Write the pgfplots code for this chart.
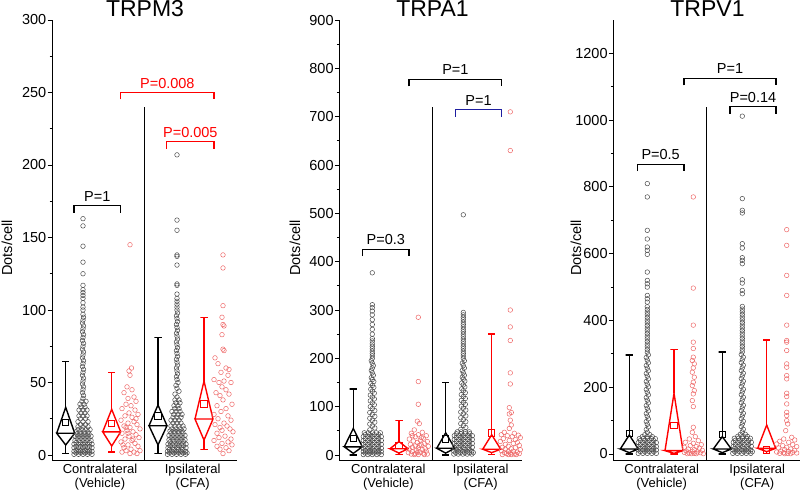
\documentclass[border=0pt]{standalone}
\usepackage{fontspec}
\setmainfont{Liberation Sans}
\usepackage{pgfplots}
\pgfplotsset{compat=1.18}
\definecolor{dotred}{RGB}{238,105,105}
\definecolor{dotblk}{RGB}{75,75,75}
\definecolor{brblue}{RGB}{30,30,160}
\newcommand{\tickfont}{\fontsize{14.5}{17}\selectfont}
\newcommand{\catfont}{\fontsize{13}{15}\selectfont}
\pgfplotsset{
  panel/.style={
    scale only axis, height=440pt, anchor=south west,
    axis x line*=bottom, axis y line*=left,
    axis line style={line width=0.9pt,-},
    xmin=0, xtick=\empty,
    tick align=outside,
    major tick length=4.5pt, minor tick length=2.5pt,
    every tick/.style={black, line width=0.9pt},
    yticklabel style={font=\tickfont, inner sep=1pt},
    /pgf/number format/assume math mode=true,
    /pgf/number format/1000 sep={},
    minor y tick num=1,
    clip=false,
  },
  bdots/.style={only marks, mark=o, mark size=2.3pt, dotblk, mark options={line width=0.5pt}},
  rdots/.style={only marks, mark=o, mark size=2.3pt, dotred, mark options={line width=0.5pt}},
  bx/.style={black, line width=1.4pt, mark=none},
  rx/.style={red, line width=1.4pt, mark=none},
  bmean/.style={only marks, black, mark=square, mark size=3.2pt, mark options={line width=0.9pt}},
  rmean/.style={only marks, red, mark=square, mark size=3.2pt, mark options={line width=0.9pt}},
  brk/.style={line width=1.1pt, mark=none},
}
\begin{document}
\begin{tikzpicture}
\useasboundingbox (0,0) rectangle (800pt,-491pt);
% ================= Panel 1: TRPM3 =================
\begin{axis}[panel, at={(52pt,-460pt)}, width=185pt, xmax=185, ymin=-3.45, ymax=300, ytick={0,50,...,300}]
\addplot[bdots] table[row sep=\\, x expr=\thisrow{dx}+31, y=y] {dx y\\
-9 0.5\\-4.5 0.5\\0 0.5\\4.5 0.5\\9 0.5\\-7 1.5\\-2.5 1.5\\2 1.5\\6.5 1.5\\
-9 2.5\\-4.5 2.5\\0 2.5\\4.5 2.5\\9 2.5\\-7 3.5\\-2.5 3.5\\2 3.5\\6.5 3.5\\
-9 5\\-4.5 5\\0 5\\4.5 5\\9 5\\-7 6\\-2.5 6\\2 6\\6.5 6\\
-9 7.5\\-4.5 7.5\\0 7.5\\4.5 7.5\\9 7.5\\-7 8.5\\-2.5 8.5\\2 8.5\\6.5 8.5\\
-8 10\\-4 10\\0 10\\4 10\\8 10\\-6 11.5\\-2 11.5\\2 11.5\\6 11.5\\
-8 13\\-4 13\\0 13\\4 13\\8 13\\-6 14.5\\-2 14.5\\2 14.5\\6 14.5\\
-7 16\\-3 16\\1 16\\5 16\\-5 17.5\\-1 17.5\\3 17.5\\7 17.5\\
-5 19.5\\0 19.5\\5 19.5\\-2.5 21\\2.5 21\\-5 23\\0 23\\5 23\\-2.5 25\\2.5 25\\
-4 27\\0 27\\4 27\\-2 29\\2 29\\-4 31\\0 31\\4 31\\-2 33\\2 33\\-3 35\\1 35\\-1 37\\3 37\\
0 39\\0.5 41\\-0.5 43\\0 45\\0.5 47\\-0.5 49\\0 51\\0.5 53\\-0.5 55\\0 57\\0.5 59\\-0.5 61\\
0 63\\0.5 65\\-0.5 67\\0 69\\0.5 71\\-0.5 73\\0 75\\0.5 77\\-0.5 79\\0 81\\0.5 83\\-0.5 85\\
0 87\\0.5 89\\-0.5 91\\0 93\\0.5 95\\0 97\\0 100\\0 102\\0 105\\0 108\\0 110\\0 112\\0 114\\
0 117\\0 125\\0 133\\0 144\\0 158\\0 163\\
};
\addplot[rdots] table[row sep=\\, x expr=\thisrow{dx}+78, y=y] {dx y\\
0 145\\1.5 60\\-1 58\\0 55\\-3 47\\2 45\\-6 43\\4 40\\-2 39\\6 37\\-4 35\\1 34\\-8 32\\5 31\\
-1 29\\8 28\\-5 27\\2 26\\-9 24\\4 23\\-2 22\\7 21\\-6 20\\0 19\\10 18\\-3 17\\3 16\\-8 15\\
6 14\\-1 13\\9 12\\-5 11\\2 10\\-9 9\\5 8\\-2 7\\8 6\\-6 5\\1 4\\10 3\\-4 3\\4 2\\-8 2\\0 1\\
7 1\\-2 15\\3 11\\-4 19\\6 25\\-7 7\\
};
\addplot[bdots] table[row sep=\\, x expr=\thisrow{dx}+125, y=y] {dx y\\
-9.5 0.5\\-5 0.5\\-0.5 0.5\\4 0.5\\8.5 0.5\\-7.5 1.5\\-3 1.5\\1.5 1.5\\6 1.5\\10 1.5\\
-9.5 2.5\\-5 2.5\\-0.5 2.5\\4 2.5\\8.5 2.5\\-7.5 3.8\\-3 3.8\\1.5 3.8\\6 3.8\\
-9 5\\-4.5 5\\0 5\\4.5 5\\9 5\\-7 6.3\\-2.5 6.3\\2 6.3\\6.5 6.3\\
-9 7.5\\-4.5 7.5\\0 7.5\\4.5 7.5\\9 7.5\\-7 9\\-2.5 9\\2 9\\6.5 9\\
-8 10.5\\-4 10.5\\0 10.5\\4 10.5\\8 10.5\\-6 12\\-2 12\\2 12\\6 12\\
-8 13.5\\-4 13.5\\0 13.5\\4 13.5\\8 13.5\\-6 15\\-2 15\\2 15\\6 15\\
-7 16.5\\-3 16.5\\1 16.5\\5 16.5\\-5 18\\-1 18\\3 18\\7 18\\
-6 20\\-2 20\\2 20\\6 20\\-4 22\\0 22\\4 22\\-6 24\\-2 24\\2 24\\-4 26\\0 26\\4 26\\
-3 28\\1 28\\5 28\\-5 30\\-1 30\\3 30\\-2 32\\2 32\\-3 34\\1 34\\-1 36\\3 36\\-2 38\\2 38\\
0 40\\-2 42\\2 44\\0 46\\-1 48\\1 50\\0 52\\-0.5 54\\0.5 56\\0 58\\-0.5 60\\0.5 62\\0 64\\
-0.5 66\\0.5 68\\0 70\\-0.5 72\\0.5 74\\0 76\\-0.5 78\\0.5 80\\0 82\\-0.5 84\\0.5 86\\0 88\\
-0.5 90\\0.5 92\\0 94\\-0.5 96\\0.5 98\\0 100\\0 102\\0 104\\0 106\\0 108\\0 111\\0 117\\
0 118\\0 131\\0 137\\0 138\\0 155\\0 162\\0 207\\
};
\addplot[rdots] table[row sep=\\, x expr=\thisrow{dx}+171, y=y] {dx y\\
0 138\\0 129\\0 103\\-1 95\\0 90\\1 89\\-1 83\\0 73\\1 72\\-8 67\\-5 63\\3 60\\6 59\\-2 57\\
5 55\\-9 52\\1 51\\-4 50\\8 50\\-1 47\\3 45\\-7 43\\6 42\\-3 41\\0 38\\9 35\\-6 34\\3 32\\
-2 30\\-9 28\\5 27\\-5 25\\8 24\\1 22\\-8 21\\4 20\\-3 19\\7 18\\-1 17\\10 16\\-6 15\\2 13\\
-4 12\\8 11\\-9 10\\5 9\\-1 8\\9 7\\-6 6\\3 5\\-3 4\\6 3\\0 1\\
};
\addplot[bx] coordinates {(4.7,15)(13.7,32.9)(22.7,15)(13.7,6.9)(4.7,15)(22.7,15)};
\addplot[bx] coordinates {(13.7,32.9)(13.7,64.3)(10,64.3)(17.4,64.3)};
\addplot[bx] coordinates {(13.7,6.9)(13.7,1.1)(10,1.1)(17.4,1.1)};
\addplot[bmean] coordinates {(13.7,22.3)};
\addplot[rx] coordinates {(50.7,16)(59.7,31.5)(68.7,16)(59.7,6.2)(50.7,16)(68.7,16)};
\addplot[rx] coordinates {(59.7,31.5)(59.7,56.8)(56,56.8)(63.4,56.8)};
\addplot[rx] coordinates {(59.7,6.2)(59.7,2)(56,2)(63.4,2)};
\addplot[rmean] coordinates {(59.7,21.6)};
\addplot[bx] coordinates {(97,20.2)(106,34.5)(115,20.2)(106,6.9)(97,20.2)(115,20.2)};
\addplot[bx] coordinates {(106,34.5)(106,81)(102.3,81)(109.7,81)};
\addplot[bx] coordinates {(106,6.9)(106,1.1)(102.3,1.1)(109.7,1.1)};
\addplot[bmean] coordinates {(106,26.9)};
\addplot[rx] coordinates {(143,24.8)(152,51)(161,24.8)(152,10.3)(143,24.8)(161,24.8)};
\addplot[rx] coordinates {(152,51)(152,95)(148.3,95)(155.7,95)};
\addplot[rx] coordinates {(152,10.3)(152,3.9)(148.3,3.9)(155.7,3.9)};
\addplot[rmean] coordinates {(152,35.2)};
\addplot[black, line width=0.8pt, mark=none] coordinates {(92.3,-3.45)(92.3,240)};
\addplot[brk, black] coordinates {(22,167.2)(22,172)(68.7,172)(68.7,167.2)};
\node[anchor=base, font=\tickfont, inner sep=0pt, yshift=4.5pt] at (axis cs:45.35,172) {P=1};
\addplot[brk, red] coordinates {(68.7,245.2)(68.7,250)(162,250)(162,245.2)};
\node[anchor=base, font=\tickfont, inner sep=0pt, yshift=4.5pt, red] at (axis cs:115.35,250) {P=0.008};
\addplot[brk, red] coordinates {(114.7,211.2)(114.7,216)(162,216)(162,211.2)};
\node[anchor=base, font=\tickfont, inner sep=0pt, yshift=4.5pt, red] at (axis cs:138.35,216) {P=0.005};
\node[anchor=base, font=\catfont, yshift=-13pt] at (axis cs:48,-3.45) {Contralateral};
\node[anchor=base, font=\catfont, yshift=-27.5pt] at (axis cs:48,-3.45) {(Vehicle)};
\node[anchor=base, font=\catfont, yshift=-13pt] at (axis cs:140.7,-3.45) {Ipsilateral};
\node[anchor=base, font=\catfont, yshift=-27.5pt] at (axis cs:140.7,-3.45) {(CFA)};
\end{axis}
% ================= Panel 2: TRPA1 =================
\begin{axis}[panel, at={(339.3pt,-460pt)}, width=183pt, xmax=183, ymin=-10.3, ymax=900, ytick={0,100,...,900}]
\addplot[bdots] table[row sep=\\, x expr=\thisrow{dx}+33, y=y] {dx y\\
-9 1\\-4.5 1\\0 1\\4.5 1\\9 1\\-7 4\\-2.5 4\\2 4\\6.5 4\\
-9 7\\-4.5 7\\0 7\\4.5 7\\9 7\\-7 10\\-2.5 10\\2 10\\6.5 10\\
-9 14\\-4.5 14\\0 14\\4.5 14\\9 14\\-7 18\\-2.5 18\\2 18\\6.5 18\\
-9 22\\-4.5 22\\0 22\\4.5 22\\9 22\\-7 26\\-2.5 26\\2 26\\6.5 26\\
-9 30\\-4.5 30\\0 30\\4.5 30\\9 30\\-7 34\\-2.5 34\\2 34\\6.5 34\\
-9 38\\-4.5 38\\0 38\\4.5 38\\9 38\\-7 42\\-2.5 42\\2 42\\6.5 42\\
-8 46\\-4 46\\0 46\\4 46\\8 46\\
-2.5 52\\2.5 56\\0 60\\-2.5 64\\2.5 68\\0 72\\-2.5 76\\2.5 80\\0 84\\-2.5 88\\2.5 92\\0 96\\
-2 100\\2 104\\0 108\\-2 112\\2 116\\0 120\\-2 124\\2 128\\0 132\\-1.5 136\\1.5 140\\0 144\\
-1.5 148\\1.5 152\\0 156\\-1 160\\1 165\\0 170\\-1 175\\0 180\\1 185\\0 190\\-1 195\\0 200\\
0 205\\0 210\\0 215\\0 220\\0 225\\0 230\\0 236\\0 241\\0 250\\0 260\\0 270\\0 280\\0 290\\
0 298\\0 305\\0 311\\0 377\\
};
\addplot[rdots] table[row sep=\\, x expr=\thisrow{dx}+79, y=y] {dx y\\
0 285\\0 152\\0 105\\-1 70\\1 65\\-4 52\\4 47\\-7 45\\0 42\\8 40\\-3 38\\5 35\\-9 33\\2 31\\
-5 29\\9 28\\-1 26\\6 24\\-8 22\\3 21\\-3 19\\10 18\\-6 16\\0 15\\7 13\\-9 12\\4 11\\-2 10\\
8 8\\-6 7\\2 6\\-10 5\\5 4\\-3 3\\9 2\\-7 2\\0 1\\6 1\\-4 1\\3 36\\-6 40\\1 20\\-1 5\\
};
\addplot[bdots] table[row sep=\\, x expr=\thisrow{dx}+124, y=y] {dx y\\
-9.5 2\\-5 2\\-0.5 2\\4 2\\8.5 2\\-7.5 5\\-3 5\\1.5 5\\6 5\\10 5\\
-9.5 8\\-5 8\\-0.5 8\\4 8\\8.5 8\\-7.5 12\\-3 12\\1.5 12\\6 12\\
-9 16\\-4.5 16\\0 16\\4.5 16\\9 16\\-7 20\\-2.5 20\\2 20\\6.5 20\\
-9 24\\-4.5 24\\0 24\\4.5 24\\9 24\\-7 28\\-2.5 28\\2 28\\6.5 28\\
-9 32\\-4.5 32\\0 32\\4.5 32\\9 32\\-7 36\\-2.5 36\\2 36\\6.5 36\\
-9 40\\-4.5 40\\0 40\\4.5 40\\9 40\\-7 44\\-2.5 44\\2 44\\6.5 44\\
-6 48\\-2 48\\2 48\\6 48\\
-2.5 53\\2.5 57\\0 61\\-2.5 65\\2.5 69\\0 73\\-2.5 77\\2.5 81\\0 85\\-2.5 89\\2.5 93\\0 97\\
-2 101\\2 105\\0 109\\-2 113\\2 117\\0 121\\-2 125\\2 129\\0 133\\-1.5 137\\1.5 141\\0 145\\
-1.5 149\\1.5 153\\0 157\\-1 161\\1 165\\0 170\\-1 175\\1 180\\0 185\\-1 190\\1 195\\0 200\\
0 205\\0 210\\0 215\\0 220\\0 225\\0 230\\0 235\\0 240\\0 245\\0 250\\0 255\\0 260\\0 265\\
0 270\\0 275\\0 280\\0 285\\0 290\\0 295\\0 497\\
};
\addplot[rdots] table[row sep=\\, x expr=\thisrow{dx}+171, y=y] {dx y\\
0 710\\0 630\\0 300\\0 265\\0 237\\0 170\\0 147\\-1 98\\1 88\\-1 85\\0 72\\1 62\\-1 55\\-6 47\\
4 45\\-9 42\\8 41\\-3 40\\2 38\\10 36\\-7 34\\5 32\\-1 30\\-10 28\\7 26\\3 24\\-5 22\\9 20\\
-2 18\\-8 16\\5 15\\1 13\\-5 12\\10 11\\-9 9\\3 8\\-2 7\\7 6\\-6 5\\0 4\\9 3\\-4 3\\4 2\\
-8 1\\1 1\\6 1\\-2 1\\
};
\addplot[bx] coordinates {(5,17)(14,55)(23,17)(14,3.4)(5,17)(23,17)};
\addplot[bx] coordinates {(14,55)(14,137)(10.3,137)(17.7,137)};
\addplot[bx] coordinates {(14,3.4)(14,0)(10.3,0)(17.7,0)};
\addplot[bmean] coordinates {(14,34.5)};
\addplot[rx] coordinates {(50.7,13)(59.7,28)(68.7,13)(59.7,4)(50.7,13)(68.7,13)};
\addplot[rx] coordinates {(59.7,28)(59.7,71)(56,71)(63.4,71)};
\addplot[rx] coordinates {(59.7,4)(59.7,1)(56,1)(63.4,1)};
\addplot[rmean] coordinates {(59.7,20)};
\addplot[bx] coordinates {(97.4,14)(106.4,46)(115.4,14)(106.4,4)(97.4,14)(115.4,14)};
\addplot[bx] coordinates {(106.4,46)(106.4,150)(102.7,150)(110.1,150)};
\addplot[bx] coordinates {(106.4,4)(106.4,0)(102.7,0)(110.1,0)};
\addplot[bmean] coordinates {(106.4,33)};
\addplot[rx] coordinates {(143.4,12)(152.4,42)(161.4,12)(152.4,5)(143.4,12)(161.4,12)};
\addplot[rx] coordinates {(152.4,42)(152.4,250)(148.7,250)(156.1,250)};
\addplot[rx] coordinates {(152.4,5)(152.4,1)(148.7,1)(156.1,1)};
\addplot[rmean] coordinates {(152.4,46)};
\addplot[black, line width=0.8pt, mark=none] coordinates {(93.4,-10.3)(93.4,720)};
\addplot[brk, black] coordinates {(23.4,411.5)(23.4,426)(69.7,426)(69.7,411.5)};
\node[anchor=base, font=\tickfont, inner sep=0pt, yshift=4.5pt] at (axis cs:46.55,426) {P=0.3};
\addplot[brk, black] coordinates {(69.7,762.5)(69.7,777)(162.4,777)(162.4,762.5)};
\node[anchor=base, font=\tickfont, inner sep=0pt, yshift=4.5pt] at (axis cs:116.05,777) {P=1};
\addplot[brk, brblue] coordinates {(116,699.5)(116,714)(162.4,714)(162.4,699.5)};
\node[anchor=base, font=\tickfont, inner sep=0pt, yshift=4.5pt] at (axis cs:139.2,714) {P=1};
\node[anchor=base, font=\catfont, yshift=-13pt] at (axis cs:49,-10.3) {Contralateral};
\node[anchor=base, font=\catfont, yshift=-27.5pt] at (axis cs:49,-10.3) {(Vehicle)};
\node[anchor=base, font=\catfont, yshift=-13pt] at (axis cs:141.4,-10.3) {Ipsilateral};
\node[anchor=base, font=\catfont, yshift=-27.5pt] at (axis cs:141.4,-10.3) {(CFA)};
\end{axis}
% ================= Panel 3: TRPV1 =================
\begin{axis}[panel, at={(613.3pt,-460pt)}, width=186.7pt, xmax=186.7, ymin=-18, ymax=1300, ytick={0,200,...,1200}]
\addplot[bdots] table[row sep=\\, x expr=\thisrow{dx}+34, y=y] {dx y\\
-9 2\\-4.5 2\\0 2\\4.5 2\\9 2\\-7 7\\-2.5 7\\2 7\\6.5 7\\
-9 12\\-4.5 12\\0 12\\4.5 12\\9 12\\-7 17\\-2.5 17\\2 17\\6.5 17\\
-9 22\\-4.5 22\\0 22\\4.5 22\\9 22\\-7 28\\-2.5 28\\2 28\\6.5 28\\
-9 34\\-4.5 34\\0 34\\4.5 34\\9 34\\-7 40\\-2.5 40\\2 40\\6.5 40\\
-8 46\\-4 46\\0 46\\4 46\\8 46\\-5 52\\0 52\\5 52\\-2.5 58\\2.5 58\\
0 65\\-1 73\\1 81\\0 89\\-1 97\\1 105\\0 113\\-1 121\\1 129\\0 137\\-1 145\\1 153\\0 161\\
-1 169\\1 177\\0 185\\-1 193\\1 201\\0 209\\-1 217\\1 225\\0 233\\-1 241\\1 249\\0 257\\
-1 265\\1 273\\0 281\\-1 289\\1 297\\0 305\\0 313\\0 321\\0 329\\0 337\\0 345\\0 353\\0 361\\
0 369\\0 377\\0 385\\0 393\\0 401\\0 409\\0 417\\0 425\\0 433\\0 441\\
0 455\\0 465\\0 475\\0 500\\0 510\\0 520\\0 545\\0 598\\0 610\\0 620\\0 644\\0 670\\0 770\\0 810\\
};
\addplot[rdots] table[row sep=\\, x expr=\thisrow{dx}+80, y=y] {dx y\\
0 770\\0 497\\0 386\\0 335\\0 316\\0 290\\-1 280\\1 270\\0 258\\-1 245\\1 230\\0 215\\-1 205\\
1 190\\0 180\\-1 160\\0 142\\0 80\\-1 65\\2 52\\-4 45\\5 40\\-8 35\\0 32\\8 28\\-3 25\\3 22\\
-9 20\\6 18\\-5 15\\1 13\\9 11\\-7 9\\-1 8\\4 6\\-9 5\\7 4\\-4 3\\1 2\\-6 1\\10 1\\3 1\\-2 1\\
};
\addplot[bdots] table[row sep=\\, x expr=\thisrow{dx}+129, y=y] {dx y\\
-9.5 2\\-5 2\\-0.5 2\\4 2\\8.5 2\\-7.5 7\\-3 7\\1.5 7\\6 7\\10 7\\
-9.5 12\\-5 12\\-0.5 12\\4 12\\8.5 12\\-7.5 17\\-3 17\\1.5 17\\6 17\\
-9 23\\-4.5 23\\0 23\\4.5 23\\9 23\\-7 29\\-2.5 29\\2 29\\6.5 29\\
-9 35\\-4.5 35\\0 35\\4.5 35\\9 35\\-7 41\\-2.5 41\\2 41\\6.5 41\\
-8 47\\-4 47\\0 47\\4 47\\8 47\\-4.5 53\\0.5 53\\5 53\\-2 59\\3 59\\
0 66\\1 74\\-1 82\\0 90\\1 98\\-1 106\\0 114\\1 122\\-1 130\\0 138\\1 146\\-1 154\\0 162\\
1 170\\-1 178\\0 186\\1 194\\-1 202\\0 210\\1 218\\-1 226\\0 234\\1 242\\-1 250\\0 258\\
1 266\\-1 274\\0 282\\1 290\\-1 298\\0 306\\0 314\\0 322\\0 330\\0 338\\0 346\\0 354\\0 362\\
0 370\\0 378\\0 386\\0 394\\0 402\\0 410\\0 418\\0 426\\0 434\\0 442\\
0 480\\0 490\\0 512\\0 522\\0 570\\0 580\\0 588\\0 617\\0 630\\0 722\\0 730\\0 765\\0 1012\\
};
\addplot[rdots] table[row sep=\\, x expr=\thisrow{dx}+173.4, y=y] {dx y\\
0 672\\0 625\\0 535\\0 475\\0 386\\0 340\\0 335\\0 310\\0 270\\0 260\\0 235\\0 225\\0 182\\
0 172\\0 150\\0 125\\0 115\\0 100\\1 90\\-1 70\\5 50\\-3 45\\8 42\\-7 38\\2 35\\-10 30\\6 28\\
-4 25\\10 22\\0 20\\-8 18\\4 15\\-2 13\\8 11\\-6 9\\2 8\\-10 6\\6 5\\-3 4\\10 3\\1 2\\-7 2\\
4 1\\-2 1\\
};
\addplot[bx] coordinates {(7,15)(16,57)(25,15)(16,4)(7,15)(25,15)};
\addplot[bx] coordinates {(16,57)(16,296)(12.3,296)(19.7,296)};
\addplot[bx] coordinates {(16,4)(16,0)(12.3,0)(19.7,0)};
\addplot[bmean] coordinates {(16,62)};
\addplot[rx] coordinates {(51.7,10)(60.7,182)(69.7,10)(60.7,2)(51.7,10)(69.7,10)};
\addplot[rx] coordinates {(60.7,182)(60.7,313)(57,313)(64.4,313)};
\addplot[rx] coordinates {(60.7,2)(60.7,0)(57,0)(64.4,0)};
\addplot[rmean] coordinates {(60.7,86)};
\addplot[bx] coordinates {(100,15)(109,52)(118,15)(109,4)(100,15)(118,15)};
\addplot[bx] coordinates {(109,52)(109,306)(105.3,306)(112.7,306)};
\addplot[bx] coordinates {(109,4)(109,0)(105.3,0)(112.7,0)};
\addplot[bmean] coordinates {(109,59)};
\addplot[rx] coordinates {(144.4,17)(153.4,87)(162.4,17)(153.4,7)(144.4,17)(162.4,17)};
\addplot[rx] coordinates {(153.4,87)(153.4,342)(149.7,342)(157.1,342)};
\addplot[rx] coordinates {(153.4,7)(153.4,2)(149.7,2)(157.1,2)};
\addplot[rmean] coordinates {(153.4,12)};
\addplot[black, line width=0.8pt, mark=none] coordinates {(93.4,-18)(93.4,1040)};
\addplot[brk, black] coordinates {(24,847)(24,868)(70.7,868)(70.7,847)};
\node[anchor=base, font=\tickfont, inner sep=0pt, yshift=4.5pt] at (axis cs:47.35,868) {P=0.5};
\addplot[brk, black] coordinates {(70.7,1104)(70.7,1125)(162.7,1125)(162.7,1104)};
\node[anchor=base, font=\tickfont, inner sep=0pt, yshift=4.5pt] at (axis cs:116.7,1125) {P=1};
\addplot[brk, black] coordinates {(116.7,1019)(116.7,1040)(162.7,1040)(162.7,1019)};
\node[anchor=base, font=\tickfont, inner sep=0pt, yshift=4.5pt] at (axis cs:139.7,1040) {P=0.14};
\node[anchor=base, font=\catfont, yshift=-13pt] at (axis cs:48.4,-18) {Contralateral};
\node[anchor=base, font=\catfont, yshift=-27.5pt] at (axis cs:48.4,-18) {(Vehicle)};
\node[anchor=base, font=\catfont, yshift=-13pt] at (axis cs:143.9,-18) {Ipsilateral};
\node[anchor=base, font=\catfont, yshift=-27.5pt] at (axis cs:143.9,-18) {(CFA)};
\end{axis}
\node[anchor=base, font=\fontsize{23}{27}\selectfont] at (145pt,-16.7pt) {TRPM3};
\node[anchor=base, font=\fontsize{23}{27}\selectfont] at (432.5pt,-16.7pt) {TRPA1};
\node[anchor=base, font=\fontsize{23}{27}\selectfont] at (707.5pt,-16.7pt) {TRPV1};
\node[rotate=90, font=\tickfont, anchor=center] at (7pt,-248pt) {Dots/cell};
\node[rotate=90, font=\tickfont, anchor=center] at (295pt,-248pt) {Dots/cell};
\node[rotate=90, font=\tickfont, anchor=center] at (576pt,-248pt) {Dots/cell};
\end{tikzpicture}
\end{document}
